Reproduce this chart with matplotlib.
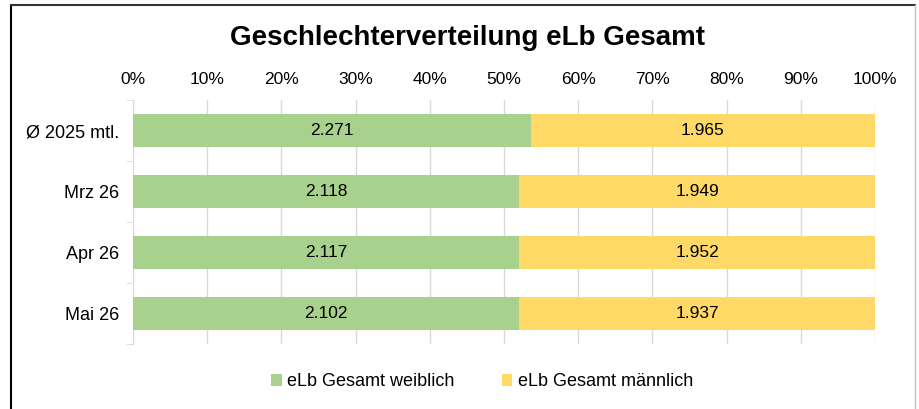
import numpy as np
import matplotlib.pyplot as plt
from matplotlib.ticker import PercentFormatter

plt.rcParams['font.family'] = ['Liberation Sans', 'DejaVu Sans']

# data
categories = ["Ø 2025 mtl.", "Mrz 26", "Apr 26", "Mai 26"]
weiblich = [2271, 2118, 2117, 2102]
maennlich = [1965, 1949, 1952, 1937]
series_names = ["eLb Gesamt weiblich", "eLb Gesamt männlich"]

green = "#A9D18E"
yellow = "#FFD966"

w = np.array(weiblich, dtype=float)
m = np.array(maennlich, dtype=float)
tot = w + m
wp = w / tot * 100
mp = m / tot * 100

fig = plt.figure(figsize=(9.19, 4.09), dpi=100)
ax = fig.add_axes([133/919, 1 - 344/409, (875 - 133)/919, (344 - 100)/409])

y = np.arange(len(categories))
bh = 0.55
b1 = ax.barh(y, wp, height=bh, color=green, label=series_names[0], zorder=3)
b2 = ax.barh(y, mp, left=wp, height=bh, color=yellow, label=series_names[1], zorder=3)

for i in range(len(categories)):
    ax.text(wp[i] / 2, y[i], f"{weiblich[i]:,}".replace(",", "."),
            ha="center", va="center", fontsize=12.5, zorder=4)
    ax.text(wp[i] + mp[i] / 2, y[i], f"{maennlich[i]:,}".replace(",", "."),
            ha="center", va="center", fontsize=12.5, zorder=4)

ax.set_xlim(0, 100)
ax.set_ylim(len(categories) - 0.5, -0.5)
ax.set_xticks(np.arange(0, 101, 10))
ax.xaxis.set_major_formatter(PercentFormatter(decimals=0))
ax.xaxis.tick_top()
ax.tick_params(axis="x", length=0, labelsize=12.5, pad=9)
ax.set_yticks(y)
ax.set_yticklabels(categories)
ax.tick_params(axis="y", which="major", length=0, labelsize=13, pad=10)
ax.set_yticks(np.arange(-0.5, len(categories), 1), minor=True)
ax.tick_params(axis="y", which="minor", length=5, color="#D9D9D9")

ax.grid(axis="x", color="#D9D9D9", linewidth=1, zorder=0)
for s in ["top", "right", "bottom"]:
    ax.spines[s].set_visible(False)
ax.spines["left"].set_color("#D9D9D9")

fig.text(467/919, 1 - 38/409, "Geschlechterverteilung eLb Gesamt",
         ha="center", va="center", fontsize=20, fontweight="bold")

fig.legend(handles=[b1, b2], labels=series_names, loc="center",
           bbox_to_anchor=(482/919, 1 - 382/409), ncol=2, frameon=False,
           fontsize=13, handlelength=0.6, handleheight=0.6,
           handletextpad=0.3, columnspacing=2.6)

# chart frame
fig.add_artist(plt.Line2D([11/919, 11/919], [0, 1 - 5/409], color="black", lw=1.5))
fig.add_artist(plt.Line2D([11/919, 915/919], [1 - 5/409, 1 - 5/409], color="#333333", lw=1.5))
fig.add_artist(plt.Line2D([915/919, 915/919], [0, 1 - 5/409], color="#BFBFBF", lw=1))

fig.savefig("out.png", dpi=100)
